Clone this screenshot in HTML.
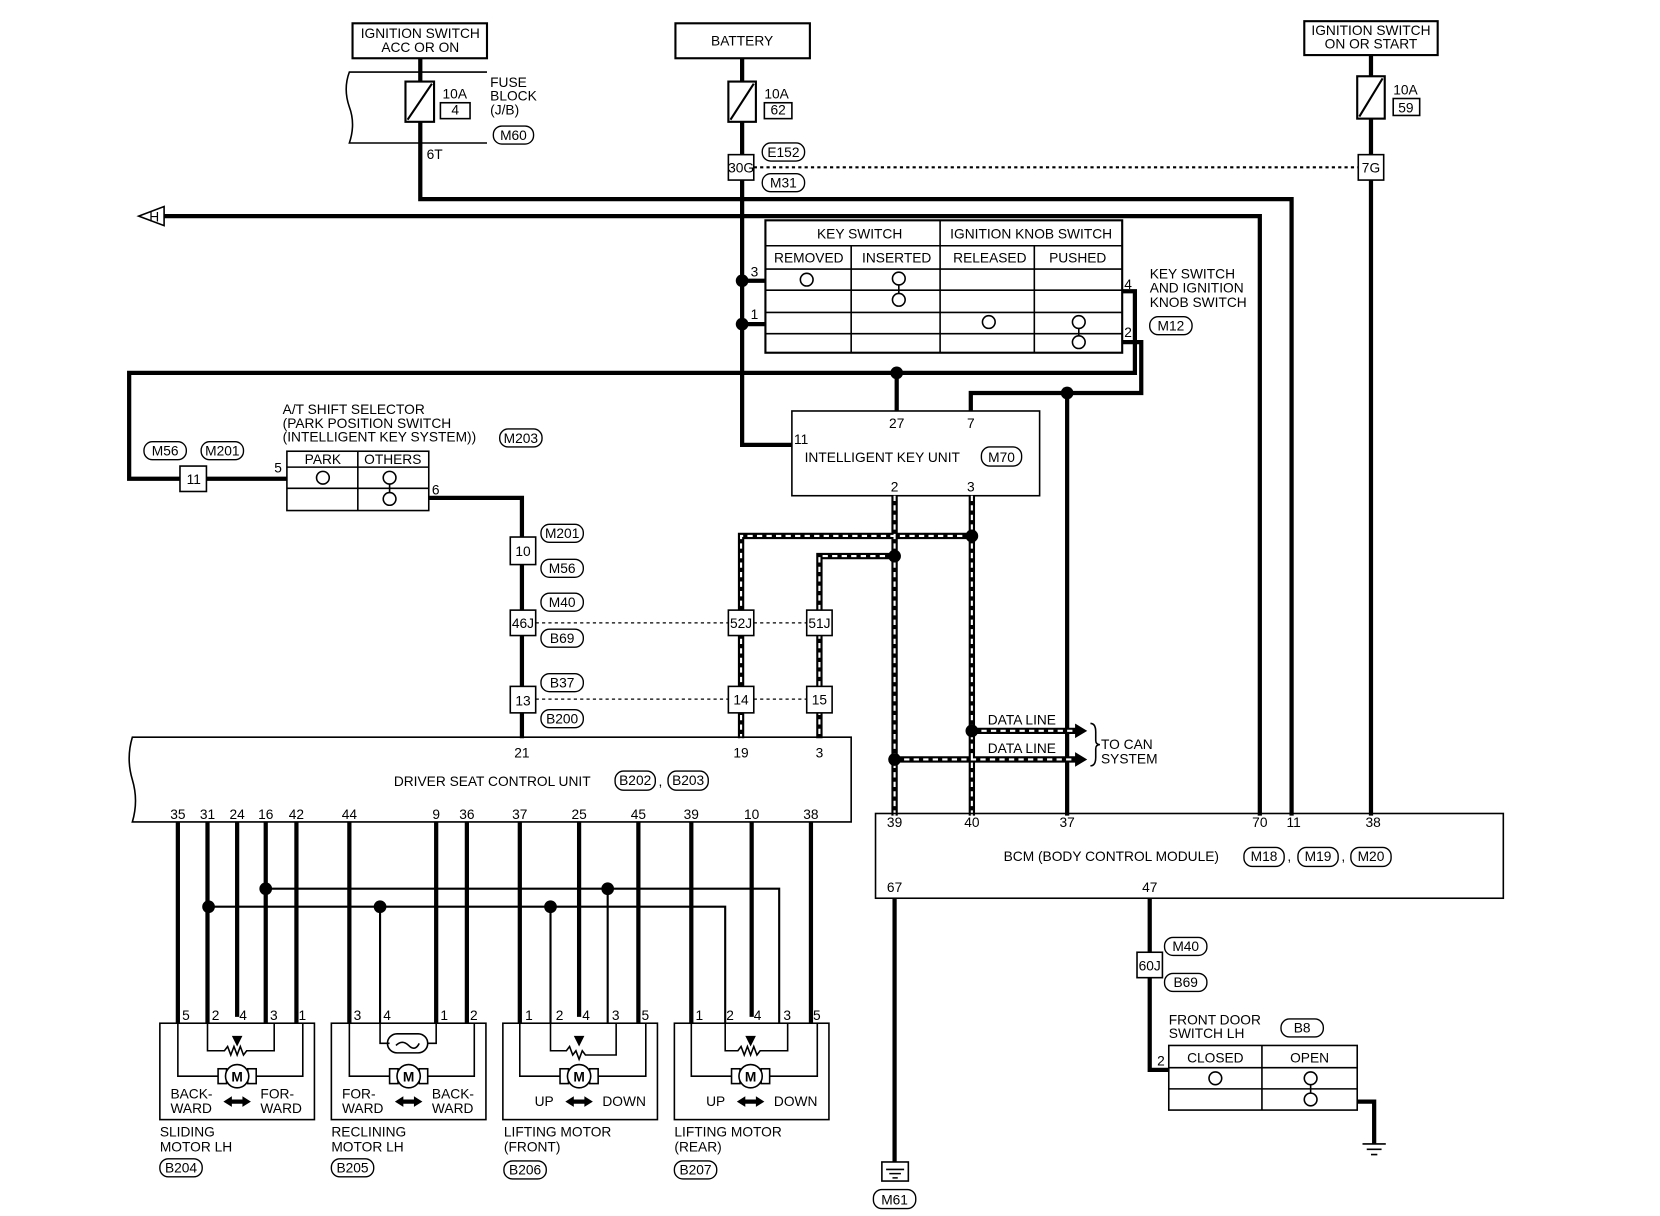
<!DOCTYPE html>
<html><head><meta charset="utf-8"><style>
html,body{margin:0;padding:0;background:#fff;}
svg{display:block}
text{font-family:"Liberation Sans",sans-serif;font-size:13px;fill:#000}
</style></head><body>
<svg width="1660" height="1216" viewBox="0 0 1568 1148" preserveAspectRatio="none" xmlns="http://www.w3.org/2000/svg">
<g fill="none" stroke="#000">
<rect x="333" y="22" width="127" height="33" stroke-width="2"/>
<rect x="638" y="22" width="127" height="33" stroke-width="2"/>
<rect x="1232" y="20" width="126" height="32" stroke-width="2"/>
<path d="M460 68 H330 q-6 16 0 33 q6 16 0 34 H460" stroke-width="1.5"/>
<g stroke-width="4">
<path d="M397 55 V77 M397 115 V188 H1220 V770"/>
<path d="M701 55 V77 M701 115 V146 M701 170 V420 H748"/>
<path d="M1295 52 V72 M1295 112 V146 M1295 170 V770"/>
<path d="M150 204 H1190 V770"/>
<path d="M1060 275 H1072 V352 H122 V452 H170 M195 452 H271"/>
<path d="M847 352 V388"/>
<path d="M1060 323 H1078 V371 H917 V388"/>
<path d="M1008 371 V770"/>
<path d="M701 265 H723 M701 306 H723"/>
<path d="M405 470 H493 V507 M493 533 V576 M493 600 V648 M493 673 V697"/>
<path d="M845 848 V1097"/>
<path d="M1086 848 V899 M1086 923 V1010 H1104"/>
<path d="M1282 1040 H1298 V1080"/>
</g>
<g stroke-width="2">
<rect x="383" y="77" width="27" height="38"/><path d="M385 113 L408 79"/>
<rect x="688" y="77" width="26" height="38"/><path d="M690 113 L712 79"/>
<rect x="1282" y="72" width="26" height="40"/><path d="M1284 110 L1306 74"/>
<rect x="416" y="97" width="28" height="15" stroke-width="1.5"/>
<rect x="722" y="97" width="26" height="15" stroke-width="1.5"/>
<rect x="1316" y="93" width="25" height="16" stroke-width="1.5"/>
</g>
<path d="M712 158 H1283" stroke-width="2" stroke-dasharray="3 3"/>
<path d="M506 588 H688 M712 588 H762 M506 660 H688 M712 660 H762" stroke-width="1.2" stroke-dasharray="3 3"/>
<path d="M131 204 L155 195 V213 Z" stroke-width="1.5" fill="#fff"/>
<g stroke-width="1.5">
<rect x="723" y="208" width="337" height="125" stroke-width="2"/>
<path d="M723 232 H1060 M723 254 H1060 M723 274 H1060 M723 295 H1060 M723 315 H1060"/>
<path d="M804 232 V333 M888 208 V333 M977 232 V333"/>
<circle cx="762" cy="264" r="6"/>
<circle cx="849" cy="263" r="6"/><circle cx="849" cy="283" r="6"/><path d="M849 269 V277"/>
<circle cx="934" cy="304" r="6"/>
<circle cx="1019" cy="304" r="6"/><circle cx="1019" cy="323" r="6"/><path d="M1019 310 V317"/>
</g>
<rect x="748" y="388" width="234" height="80" stroke-width="1.5"/>
<g stroke-width="1.5">
<rect x="271" y="426" width="134" height="56"/>
<path d="M271 441 H405 M271 461 H405 M338 426 V482"/>
<circle cx="305" cy="451" r="6"/>
<circle cx="368" cy="451" r="6"/><circle cx="368" cy="471" r="6"/><path d="M368 457 V465"/>
<rect x="170" y="440" width="25" height="24"/>
</g>
<g stroke-width="1.5" fill="#fff">
<rect x="688" y="146" width="24" height="24"/>
<rect x="1283" y="146" width="24" height="24"/>
<rect x="482" y="507" width="24" height="26"/>
<rect x="482" y="576" width="24" height="24"/>
<rect x="482" y="648" width="24" height="25"/>
<rect x="1074" y="899" width="24" height="24"/>
</g>
<g stroke-width="6">
<path d="M845 468 V770 M918 468 V770 M918 506 H700 V697 M845 525 H774 V697 M918 690 H1018 M845 717 H1018"/>
</g>
<g stroke="#fff" stroke-width="2" stroke-dasharray="5 4">
<path d="M845 468 V770 M918 468 V770 M918 506 H700 V697 M845 525 H774 V697 M918 690 H1018 M845 717 H1018"/>
</g>
<g stroke-width="1.5" fill="#fff">
<rect x="688" y="576" width="24" height="24"/>
<rect x="762" y="576" width="24" height="24"/>
<rect x="688" y="648" width="24" height="25"/>
<rect x="762" y="648" width="24" height="25"/>
</g>
<path d="M1016 684 L1026 690 L1016 696 Z M1016 711 L1026 717 L1016 723 Z" fill="#000" stroke-width="1"/>
<path d="M1030 683 q5 0 5 8 v8 q0 4 4 4 q-4 0 -4 4 v8 q0 8 -5 8" stroke-width="1.5"/>
<path d="M804 696 H125 q-6 20 0 40 q6 20 0 40 H804 Z" stroke-width="1.5"/>
<rect x="827" y="768" width="593" height="80" stroke-width="1.5"/>
<g stroke-width="4">
<path d="M168 776 V966 M196 776 V966 M224 776 V960 M251 776 V966 M280 776 V966"/>
<path d="M330 776 V966 M412 776 V966 M441 776 V966"/>
<path d="M491 776 V966 M547 776 V960 M603 776 V966"/>
<path d="M653 776 V966 M710 776 V960 M766 776 V966"/>
</g>
<g stroke-width="2">
<path d="M251 839 H736 V966 M574 839 V966"/>
<path d="M197 856 H685 V966 M359 856 V966 M520 856 V966"/>
</g>
<g stroke-width="1.5">
<rect x="151" y="966" width="146" height="91"/>
<rect x="313" y="966" width="146" height="91"/>
<rect x="475" y="966" width="146" height="91"/>
<rect x="637" y="966" width="146" height="91"/>
<path d="M168 966 V1016 H206 M242 1016 H286 V966 M196 966 V992 H212 l3 -4 l3 8 l3 -8 l3 8 l3 -8 l3 8 l3 -4 H259 V966"/>
<path d="M330 966 V1016 H368 M404 1016 H448 V966 M359 966 V985 H368 M404 985 H412 V966"/>
<rect x="366" y="976" width="38" height="18" rx="9"/><path d="M374 987 q6 -6 12 0 t10 -2"/>
<path d="M491 966 V1016 H529 M565 1016 H610 V966 M520 966 V992 H535 l3 -4 l3 8 l3 -4 l3 8 l3 -8 l3 4 H582 V966"/>
<path d="M653 966 V1016 H691 M727 1016 H772 V966 M685 966 V992 H697 l3 -4 l3 8 l3 -8 l3 8 l3 -8 l3 8 l3 -4 H744 V966"/>
</g>
<g stroke-width="1.5" fill="#fff">
<rect x="206" y="1009" width="8" height="14"/><rect x="234" y="1009" width="8" height="14"/><circle cx="224" cy="1016" r="11"/>
<rect x="368" y="1009" width="8" height="14"/><rect x="396" y="1009" width="8" height="14"/><circle cx="386" cy="1016" r="11"/>
<rect x="529" y="1009" width="8" height="14"/><rect x="557" y="1009" width="8" height="14"/><circle cx="547" cy="1016" r="11"/>
<rect x="691" y="1009" width="8" height="14"/><rect x="719" y="1009" width="8" height="14"/><circle cx="709" cy="1016" r="11"/>
</g>
<g stroke-width="1.5">
<rect x="1104" y="987" width="178" height="61"/>
<path d="M1104 1008 H1282 M1104 1028 H1282 M1192 987 V1048"/>
<circle cx="1148" cy="1018" r="6"/>
<circle cx="1238" cy="1018" r="6"/><circle cx="1238" cy="1038" r="6"/><path d="M1238 1024 V1032"/>
<path d="M1287 1080 H1309 M1291 1085 H1305 M1295 1090 H1301"/>
<rect x="833" y="1097" width="25" height="18"/>
<path d="M837 1104 H854 M840 1108 H851 M843 1112 H848"/>
</g>
<g stroke-width="1.3">
<rect x="466" y="119" width="38" height="17" rx="8"/>
<rect x="720" y="135" width="40" height="17" rx="8"/>
<rect x="720" y="164" width="40" height="17" rx="8"/>
<rect x="1086" y="299" width="40" height="17" rx="8"/>
<rect x="927" y="422" width="38" height="18" rx="8"/>
<rect x="472" y="405" width="40" height="17" rx="8"/>
<rect x="136" y="417" width="40" height="17" rx="8"/>
<rect x="190" y="417" width="40" height="17" rx="8"/>
<rect x="511" y="495" width="40" height="17" rx="8"/>
<rect x="511" y="528" width="40" height="17" rx="8"/>
<rect x="511" y="560" width="40" height="17" rx="8"/>
<rect x="511" y="594" width="40" height="17" rx="8"/>
<rect x="511" y="636" width="40" height="17" rx="8"/>
<rect x="511" y="670" width="40" height="17" rx="8"/>
<rect x="581" y="728" width="38" height="18" rx="8"/>
<rect x="631" y="728" width="38" height="18" rx="8"/>
<rect x="1175" y="800" width="38" height="18" rx="8"/>
<rect x="1226" y="800" width="38" height="18" rx="8"/>
<rect x="1276" y="800" width="38" height="18" rx="8"/>
<rect x="1100" y="885" width="40" height="17" rx="8"/>
<rect x="1100" y="919" width="40" height="17" rx="8"/>
<rect x="1210" y="962" width="40" height="17" rx="8"/>
<rect x="825" y="1123" width="40" height="18" rx="8"/>
<rect x="151" y="1094" width="40" height="17" rx="8"/>
<rect x="313" y="1094" width="40" height="17" rx="8"/>
<rect x="476" y="1096" width="40" height="17" rx="8"/>
<rect x="637" y="1096" width="40" height="17" rx="8"/>
</g>
</g>
<g fill="#000">
<circle cx="701" cy="265" r="6"/><circle cx="701" cy="306" r="6"/>
<circle cx="847" cy="352" r="6"/><circle cx="1008" cy="371" r="6"/>
<circle cx="918" cy="506" r="6"/><circle cx="845" cy="525" r="6"/>
<circle cx="918" cy="690" r="6"/><circle cx="845" cy="717" r="6"/>
<circle cx="251" cy="839" r="6"/><circle cx="574" cy="839" r="6"/>
<circle cx="197" cy="856" r="6"/><circle cx="359" cy="856" r="6"/><circle cx="520" cy="856" r="6"/>
<path d="M219 978 L229 978 L224 988 Z M542 978 L552 978 L547 988 Z M704 978 L714 978 L709 988 Z"/>
<path d="M211 1040 l8 -5 v10 Z M237 1040 l-8 -5 v10 Z M219 1038 h10 v4 h-10 Z"/>
<path d="M373 1040 l8 -5 v10 Z M399 1040 l-8 -5 v10 Z M381 1038 h10 v4 h-10 Z"/>
<path d="M534 1040 l8 -5 v10 Z M560 1040 l-8 -5 v10 Z M542 1038 h10 v4 h-10 Z"/>
<path d="M696 1040 l8 -5 v10 Z M722 1040 l-8 -5 v10 Z M704 1038 h10 v4 h-10 Z"/>
</g>
<g text-anchor="middle">
<text x="397" y="36">IGNITION SWITCH</text><text x="397" y="49">ACC OR ON</text>
<text x="701" y="43">BATTERY</text>
<text x="1295" y="33">IGNITION SWITCH</text><text x="1295" y="46">ON OR START</text>
<text x="430" y="108">4</text><text x="735" y="108">62</text><text x="1328" y="106">59</text>
<text x="485" y="132" font-size="12">M60</text>
<text x="740" y="148" font-size="12">E152</text><text x="740" y="177" font-size="12">M31</text>
<text x="700" y="163" font-size="11">30G</text><text x="1295" y="163">7G</text>
<text x="812" y="225">KEY SWITCH</text><text x="974" y="225">IGNITION KNOB SWITCH</text>
<text x="764" y="248">REMOVED</text><text x="847" y="248">INSERTED</text><text x="935" y="248">RELEASED</text><text x="1018" y="248">PUSHED</text>
<text x="1106" y="312" font-size="12">M12</text>
<text x="946" y="436" font-size="12">M70</text>
<text x="492" y="418" font-size="11">M203</text>
<text x="156" y="430" font-size="12">M56</text><text x="210" y="430" font-size="11">M201</text>
<text x="183" y="457">11</text>
<text x="305" y="438" font-size="12">PARK</text><text x="371" y="438" font-size="12">OTHERS</text>
<text x="494" y="525">10</text><text x="494" y="593" font-size="11">46J</text><text x="494" y="666">13</text>
<text x="531" y="508" font-size="11">M201</text><text x="531" y="541" font-size="12">M56</text>
<text x="531" y="573" font-size="12">M40</text><text x="531" y="607" font-size="12">B69</text>
<text x="531" y="649" font-size="12">B37</text><text x="531" y="683" font-size="11">B200</text>
<text x="700" y="593" font-size="11">52J</text><text x="774" y="593" font-size="11">51J</text>
<text x="700" y="665">14</text><text x="774" y="665">15</text>
<text x="600" y="741" font-size="12">B202</text><text x="650" y="741" font-size="12">B203</text>
<text x="1194" y="813" font-size="12">M18</text><text x="1245" y="813" font-size="12">M19</text><text x="1295" y="813" font-size="12">M20</text>
<text x="1086" y="916" font-size="11">60J</text>
<text x="1120" y="898" font-size="12">M40</text><text x="1120" y="932" font-size="12">B69</text>
<text x="1230" y="975" font-size="12">B8</text>
<text x="1148" y="1003" font-size="12">CLOSED</text><text x="1237" y="1003" font-size="12">OPEN</text>
<text x="845" y="1137" font-size="12">M61</text>
<text x="171" y="1107" font-size="11">B204</text><text x="333" y="1107" font-size="11">B205</text>
<text x="496" y="1109" font-size="11">B206</text><text x="657" y="1109" font-size="11">B207</text>
<text x="847" y="404">27</text><text x="917" y="404">7</text><text x="845" y="464">2</text><text x="917" y="464">3</text>
<text x="493" y="715">21</text><text x="700" y="715">19</text><text x="774" y="715">3</text>
<text x="168" y="773">35</text><text x="196" y="773">31</text><text x="224" y="773">24</text><text x="251" y="773">16</text><text x="280" y="773">42</text>
<text x="330" y="773">44</text><text x="412" y="773">9</text><text x="441" y="773">36</text>
<text x="491" y="773">37</text><text x="547" y="773">25</text><text x="603" y="773">45</text>
<text x="653" y="773">39</text><text x="710" y="773">10</text><text x="766" y="773">38</text>
<text x="845" y="781">39</text><text x="918" y="781">40</text><text x="1008" y="781">37</text>
<text x="1190" y="781">70</text><text x="1222" y="781">11</text><text x="1297" y="781">38</text>
<text x="845" y="842">67</text><text x="1086" y="842">47</text>
</g>
<text x="141" y="209" font-size="12">H</text>
<text x="418" y="93">10A</text><text x="722" y="93">10A</text><text x="1316" y="89">10A</text>
<text x="463" y="82">FUSE</text><text x="463" y="95">BLOCK</text><text x="463" y="108">(J/B)</text>
<text x="403" y="150">6T</text>
<text x="709" y="261">3</text><text x="709" y="301">1</text>
<text x="1062" y="273">4</text><text x="1062" y="318">2</text>
<text x="1086" y="263">KEY SWITCH</text><text x="1086" y="276">AND IGNITION</text><text x="1086" y="290">KNOB SWITCH</text>
<text x="750" y="419">11</text>
<text x="760" y="436">INTELLIGENT KEY UNIT</text>
<text x="267" y="391">A/T SHIFT SELECTOR</text><text x="267" y="404">(PARK POSITION SWITCH</text><text x="267" y="417">(INTELLIGENT KEY SYSTEM))</text>
<text x="259" y="446">5</text><text x="408" y="467">6</text>
<text x="933" y="684">DATA LINE</text><text x="933" y="711">DATA LINE</text>
<text x="1040" y="707">TO CAN</text><text x="1040" y="721">SYSTEM</text>
<text x="372" y="742">DRIVER SEAT CONTROL UNIT</text><text x="622" y="742">,</text>
<text x="948" y="813">BCM (BODY CONTROL MODULE)</text><text x="1216" y="813">,</text><text x="1267" y="813">,</text>
<text x="1104" y="967">FRONT DOOR</text><text x="1104" y="980">SWITCH LH</text>
<text x="1093" y="1006">2</text>
<g font-size="12">
<text x="172" y="963">5</text><text x="200" y="963">2</text><text x="226" y="963">4</text><text x="255" y="963">3</text><text x="282" y="963">1</text>
<text x="334" y="963">3</text><text x="362" y="963">4</text><text x="416" y="963">1</text><text x="444" y="963">2</text>
<text x="496" y="963">1</text><text x="525" y="963">2</text><text x="550" y="963">4</text><text x="578" y="963">3</text><text x="606" y="963">5</text>
<text x="657" y="963">1</text><text x="686" y="963">2</text><text x="712" y="963">4</text><text x="740" y="963">3</text><text x="768" y="963">5</text>
</g>
<g text-anchor="middle" font-weight="bold"><text x="224" y="1021" font-size="14">M</text><text x="386" y="1021" font-size="14">M</text><text x="547" y="1021" font-size="14">M</text><text x="709" y="1021" font-size="14">M</text></g>
<text x="161" y="1037">BACK-</text><text x="161" y="1051">WARD</text><text x="246" y="1037">FOR-</text><text x="246" y="1051">WARD</text>
<text x="323" y="1037">FOR-</text><text x="323" y="1051">WARD</text><text x="408" y="1037">BACK-</text><text x="408" y="1051">WARD</text>
<text x="505" y="1044">UP</text><text x="569" y="1044">DOWN</text>
<text x="667" y="1044">UP</text><text x="731" y="1044">DOWN</text>
<text x="151" y="1073">SLIDING</text><text x="151" y="1087">MOTOR LH</text>
<text x="313" y="1073">RECLINING</text><text x="313" y="1087">MOTOR LH</text>
<text x="476" y="1073">LIFTING MOTOR</text><text x="476" y="1087">(FRONT)</text>
<text x="637" y="1073">LIFTING MOTOR</text><text x="637" y="1087">(REAR)</text>
</svg>
</body></html>
